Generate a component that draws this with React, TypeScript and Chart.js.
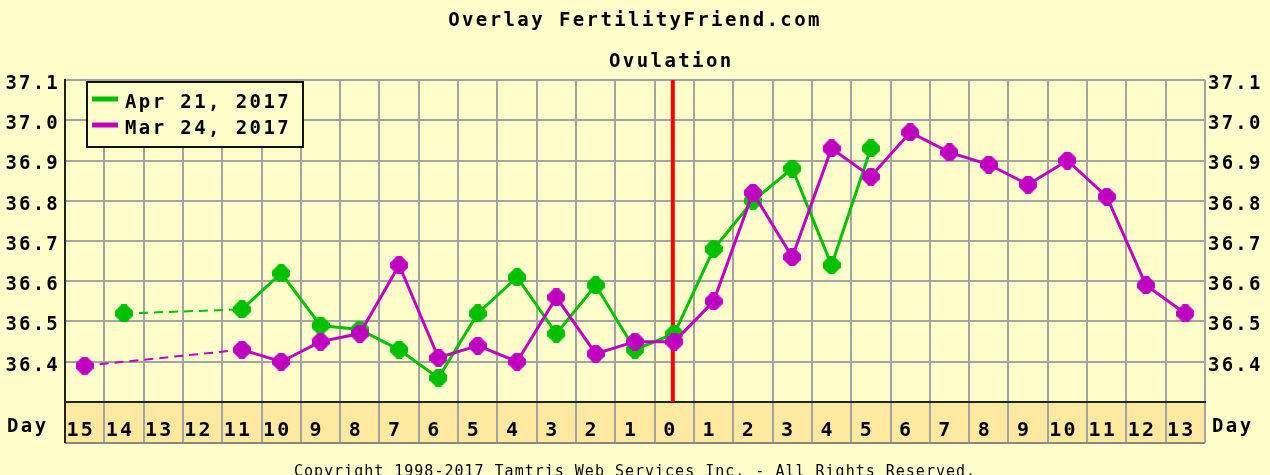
import React, { useEffect, useRef } from 'react';
import { Chart, registerables } from 'chart.js';

Chart.register(...registerables);

// ---- data ----
const dayLabels = ['15','14','13','12','11','10','9','8','7','6','5','4','3','2','1','0','1','2','3','4','5','6','7','8','9','10','11','12','13'];
const apr21 = [null, 36.52, null, null, 36.53, 36.62, 36.49, 36.48, 36.43, 36.36, 36.52, 36.61, 36.47, 36.59, 36.43, 36.47, 36.68, 36.80, 36.88, 36.64, 36.93, null, null, null, null, null, null, null, null];
const mar24 = [36.39, null, null, null, 36.43, 36.40, 36.45, 36.47, 36.64, 36.41, 36.44, 36.40, 36.56, 36.42, 36.45, 36.45, 36.55, 36.82, 36.66, 36.93, 36.86, 36.97, 36.92, 36.89, 36.84, 36.90, 36.81, 36.59, 36.52];
const seriesNames = ['Apr 21, 2017', 'Mar 24, 2017'];
const seriesColors = ['#00C000', '#C000C0'];
const ovulationIndex = 15;
const yMin = 36.3;
const yMax = 37.1;
const titleText = 'Overlay FertilityFriend.com';
const ovulationText = 'Ovulation';
const dayText = 'Day';
const copyrightText = 'Copyright 1998-2017 Tamtris Web Services Inc. - All Rights Reserved.';

const FONT = '"DejaVu Sans Mono", "Liberation Mono", monospace';
const BG = '#FFFFCC';
const BAND = '#FFE8A0';
const GRID = '#A4A4A4';

function makeMarker(color: string) {
  const c = document.createElement('canvas');
  const s = 18;
  c.width = s;
  c.height = s;
  const g = c.getContext('2d')!;
  g.fillStyle = color;
  const m = s / 2;
  const t = 2.5;
  g.beginPath();
  g.moveTo(m - t, 0);
  g.lineTo(m + t, 0);
  g.lineTo(s, m - t);
  g.lineTo(s, m + t);
  g.lineTo(m + t, s);
  g.lineTo(m - t, s);
  g.lineTo(0, m + t);
  g.lineTo(0, m - t);
  g.closePath();
  g.fill();
  return c;
}

const decor = {
  id: 'decor',
  beforeDraw(chart: any) {
    const { ctx, chartArea: a, width, height } = chart;
    const xs = chart.scales.x;
    const step = xs.getPixelForValue(1) - xs.getPixelForValue(0);
    const bandH = 41;
    ctx.save();
    ctx.fillStyle = BG;
    ctx.fillRect(0, 0, width, height);
    ctx.fillStyle = BAND;
    ctx.fillRect(a.left, a.bottom, a.right - a.left, bandH);
    ctx.strokeStyle = GRID;
    ctx.lineWidth = 2;
    for (let i = 0; i <= dayLabels.length; i++) {
      const x = Math.round(xs.getPixelForValue(0) - step / 2 + i * step);
      ctx.beginPath();
      ctx.moveTo(x, a.bottom);
      ctx.lineTo(x, a.bottom + bandH);
      ctx.stroke();
    }
    ctx.strokeStyle = '#8a8a7a';
    ctx.beginPath();
    ctx.moveTo(a.left, a.bottom + bandH);
    ctx.lineTo(a.right, a.bottom + bandH);
    ctx.stroke();
    ctx.strokeStyle = '#222';
    ctx.beginPath();
    ctx.moveTo(a.left, a.top);
    ctx.lineTo(a.left, a.bottom + bandH);
    ctx.stroke();
    ctx.restore();
    ctx.letterSpacing = '2.2px';
  },
  beforeDatasetsDraw(chart: any) {
    const { ctx, chartArea: a } = chart;
    const x = chart.scales.x.getPixelForValue(ovulationIndex) - 1.5;
    ctx.save();
    ctx.strokeStyle = '#FF0000';
    ctx.lineWidth = 4;
    ctx.beginPath();
    ctx.moveTo(x, a.top);
    ctx.lineTo(x, a.bottom);
    ctx.stroke();
    ctx.restore();
  },
  afterDraw(chart: any) {
    const { ctx, chartArea: a, width } = chart;
    const xs = chart.scales.x;
    ctx.save();
    ctx.letterSpacing = '2.4px';
    ctx.fillStyle = '#000';
    ctx.font = 'bold 19px ' + FONT;
    ctx.textBaseline = 'alphabetic';
    ctx.textAlign = 'center';
    ctx.fillText(titleText, width / 2, 26);
    ctx.fillText(ovulationText, xs.getPixelForValue(ovulationIndex) - 3, 67);
    ctx.textAlign = 'left';
    ctx.fillText(dayText, 7, 432);
    ctx.fillText(dayText, a.right + 7, 432);

    // legend
    const lx = a.left + 22;
    const ly = a.top + 2;
    ctx.fillStyle = BG;
    ctx.fillRect(lx, ly, 216, 65);
    ctx.strokeStyle = '#111';
    ctx.lineWidth = 2;
    ctx.strokeRect(lx, ly, 216, 65);
    for (let i = 0; i < seriesNames.length; i++) {
      const yy = ly + 17 + i * 26;
      ctx.strokeStyle = seriesColors[i];
      ctx.lineWidth = 5;
      ctx.beginPath();
      ctx.moveTo(lx + 5, yy);
      ctx.lineTo(lx + 31, yy);
      ctx.stroke();
      ctx.fillStyle = '#000';
      ctx.fillText(seriesNames[i], lx + 38, yy + 9);
    }

    // copyright
    ctx.letterSpacing = '1px';
    ctx.font = '15px ' + FONT;
    ctx.textAlign = 'center';
    ctx.fillText(copyrightText, width / 2, 476);
    ctx.restore();
  },
};

export default function App() {
  const ref = useRef<HTMLCanvasElement>(null);
  useEffect(() => {
    const green = makeMarker(seriesColors[0]);
    const magenta = makeMarker(seriesColors[1]);
    const gap = (c: any) => !!(c.p0 && c.p0.skip) || !!(c.p1 && c.p1.skip);
    const dash = (c: any) => (gap(c) ? [9, 6] : undefined);
    const dashW = (def: number) => (c: any) => (gap(c) ? 2 : def);
    const tickFont = { family: FONT, size: 19, weight: 'bold' as const };
    const bandFont = { family: FONT, size: 20, weight: 'bold' as const };
    const yTick = (v: any) => (Number(v) < yMin + 0.05 ? '' : Number(v).toFixed(1));
    const chart = new Chart(ref.current!, {
      type: 'line',
      data: {
        labels: dayLabels,
        datasets: [
          {
            label: seriesNames[0],
            data: apr21,
            borderColor: seriesColors[0],
            backgroundColor: seriesColors[0],
            borderWidth: 3,
            pointStyle: green as any,
            pointRadius: 9,
            spanGaps: true,
            tension: 0,
            order: 1,
            segment: { borderDash: dash, borderWidth: dashW(3) },
          },
          {
            label: seriesNames[1],
            data: mar24,
            borderColor: seriesColors[1],
            backgroundColor: seriesColors[1],
            borderWidth: 3,
            pointStyle: magenta as any,
            pointRadius: 9,
            spanGaps: true,
            tension: 0,
            order: 0,
            segment: { borderDash: dash, borderWidth: dashW(3) },
          },
        ],
      },
      options: {
        animation: false,
        responsive: false,
        devicePixelRatio: 1,
        layout: { padding: { top: 80, left: 0, right: 0, bottom: 0 } },
        plugins: { legend: { display: false }, tooltip: { enabled: false }, title: { display: false } },
        scales: {
          x: {
            type: 'category',
            offset: true,
            grid: { offset: true, color: GRID, lineWidth: 2, drawTicks: false },
            border: { display: true, color: '#222', width: 2 },
            ticks: {
              font: bandFont,
              color: '#000',
              padding: 17,
              labelOffset: -4,
              autoSkip: false,
              maxRotation: 0,
              minRotation: 0,
            },
            afterFit: (s: any) => { s.height = 73; },
          },
          y: {
            position: 'left',
            min: yMin,
            max: yMax,
            grid: { color: GRID, lineWidth: 2, drawTicks: false },
            border: { display: true, color: '#222', width: 2 },
            ticks: { stepSize: 0.1, font: tickFont, color: '#000', padding: 5, labelOffset: 4, callback: yTick },
            afterFit: (s: any) => { s.width = 65; },
          },
          y2: {
            position: 'right',
            min: yMin,
            max: yMax,
            grid: { display: false, drawTicks: false },
            border: { display: false },
            ticks: { stepSize: 0.1, font: tickFont, color: '#000', padding: 3, labelOffset: 4, callback: yTick },
            afterFit: (s: any) => { s.width = 65; },
          },
        },
      } as any,
      plugins: [decor],
    });
    return () => chart.destroy();
  }, []);
  return (
    <div style={{ position: 'absolute', left: 0, top: 0, width: 1270, height: 475, overflow: 'hidden' }}>
      <canvas ref={ref} width={1270} height={475} style={{ display: 'block' }} />
    </div>
  );
}
